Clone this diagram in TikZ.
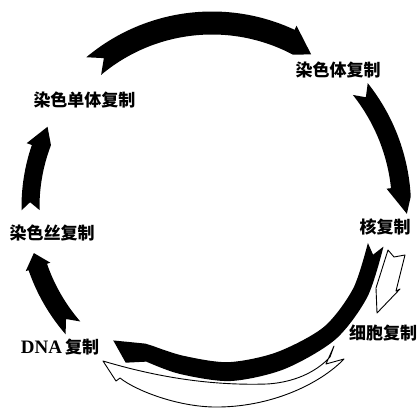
\documentclass[tikz,border=0pt]{standalone}
\usepackage{fontspec}
\setmainfont{Liberation Serif}
\newfontfamily\cjk{Noto Sans CJK SC}
\begin{document}
\begin{tikzpicture}[x=1pt,y=1pt,
  lbl/.style={font=\cjk\bfseries\fontsize{17}{17}\selectfont, inner sep=0pt},
  bigarrow/.style={fill=black},
  hollowarrow/.style={draw=black, fill=white, line width=0.9pt, line join=round}]
\useasboundingbox (0,0) rectangle (418,408);
% labels
\node[lbl] (chrom)   at (338,338.5) {染色体复制};
\node[lbl] (nuc)     at (385,181)   {核复制};
\node[lbl] (cell)    at (383,74.5)  {细胞复制};
\node[lbl, font=\bfseries\fontsize{19}{19}\selectfont] (dna) at (60,60.5) {DNA\,{\cjk\bfseries\fontsize{17}{17}\selectfont 复制}};
\node[lbl] (thread)  at (52,175)    {染色丝复制};
\node[lbl] (chromat) at (84.5,308.5){染色单体复制};
% big black arrows around the centre
\begin{scope}[shift={(212,201)}]
  \coordinate (ctr) at (0,0);
  % arrow 1: chromatid -> chromosome
  \coordinate (a1notch) at (126:184);
  \coordinate (a1tip)   at (57:182);
  \fill[bigarrow] (130:195.5) arc[start angle=130, end angle=65, radius=195.5pt]
     -- (65:200) -- (a1tip) -- (62:172.5)
     arc[start angle=62, end angle=130, radius=172.5pt] -- (a1notch) -- cycle;
  % arrow 2: chromosome -> nucleus
  \coordinate (a2notch) at (35.5:189);
  \coordinate (a2tip)   at (-2:195);
  \fill[bigarrow] (38.5:199) arc[start angle=38.5, end angle=3, radius=199pt]
     -- (a2tip) -- (6:175.5) -- (6:180)
     arc[start angle=6, end angle=38.5, radius=180pt] -- (a2notch) -- cycle;
  % arrow 3: nucleus -> DNA
  \coordinate (a3notch) at (-16.5:168);
  \coordinate (a3tip)   at (-126.5:166);
  \fill[bigarrow] plot[smooth] coordinates {(-13:176) (-30:179.5) (-47:181) (-66:177.5) (-84:175) (-101:170) (-113:168)}
     -- (-119:178) -- (a3tip) -- (-116:152)
     -- plot[smooth] coordinates {(-113:151) (-101:151.5) (-84:156) (-66:159) (-47:164) (-30:163) (-13:160)}
     -- (a3notch) -- cycle;
  % arrow 4: DNA -> chromatin thread
  \coordinate (a4notch) at (217.5:184);
  \coordinate (a4tip)   at (194.5:184);
  \fill[bigarrow] (221:194) arc[start angle=221, end angle=199, radius=194pt]
     -- (199:197) -- (a4tip) -- (199:171) -- (199:174.5)
     arc[start angle=199, end angle=221, radius=174.5pt] -- (a4notch) -- cycle;
  % arrow 5: chromatin thread -> chromatid
  \coordinate (a5notch) at (178.5:182);
  \coordinate (a5tip)   at (154:183);
  \fill[bigarrow] (181:190.5) arc[start angle=181, end angle=161, radius=190.5pt]
     -- (161:196) -- (a5tip) -- (159:172.5)
     arc[start angle=159, end angle=181, radius=172.5pt] -- (a5notch) -- cycle;
\end{scope}
% hollow arrow: nucleus -> cell
\coordinate (w1notch) at (394,151);
\coordinate (w1tip)   at (377,95);
\draw[hollowarrow] (388,158) -- (w1notch) -- (405,153) -- (396,117) -- (400,119)
   -- (w1tip) -- (376,120) -- cycle;
% hollow arrow: cell -> DNA (along the bottom)
\coordinate (w2notch) at (326,44);
\coordinate (w2tip)   at (103,47);
\draw[hollowarrow] (w2tip) .. controls (150,33) and (205,22) .. (267,24)
   .. controls (300,26) and (320,40) .. (330,51) -- (334,62) -- (w2notch) -- (344,49)
   .. controls (320,24) and (270,0) .. (213,1)
   .. controls (175,2) and (135,18) .. (120,30) -- (116,27) -- cycle;
\end{tikzpicture}
\end{document}
